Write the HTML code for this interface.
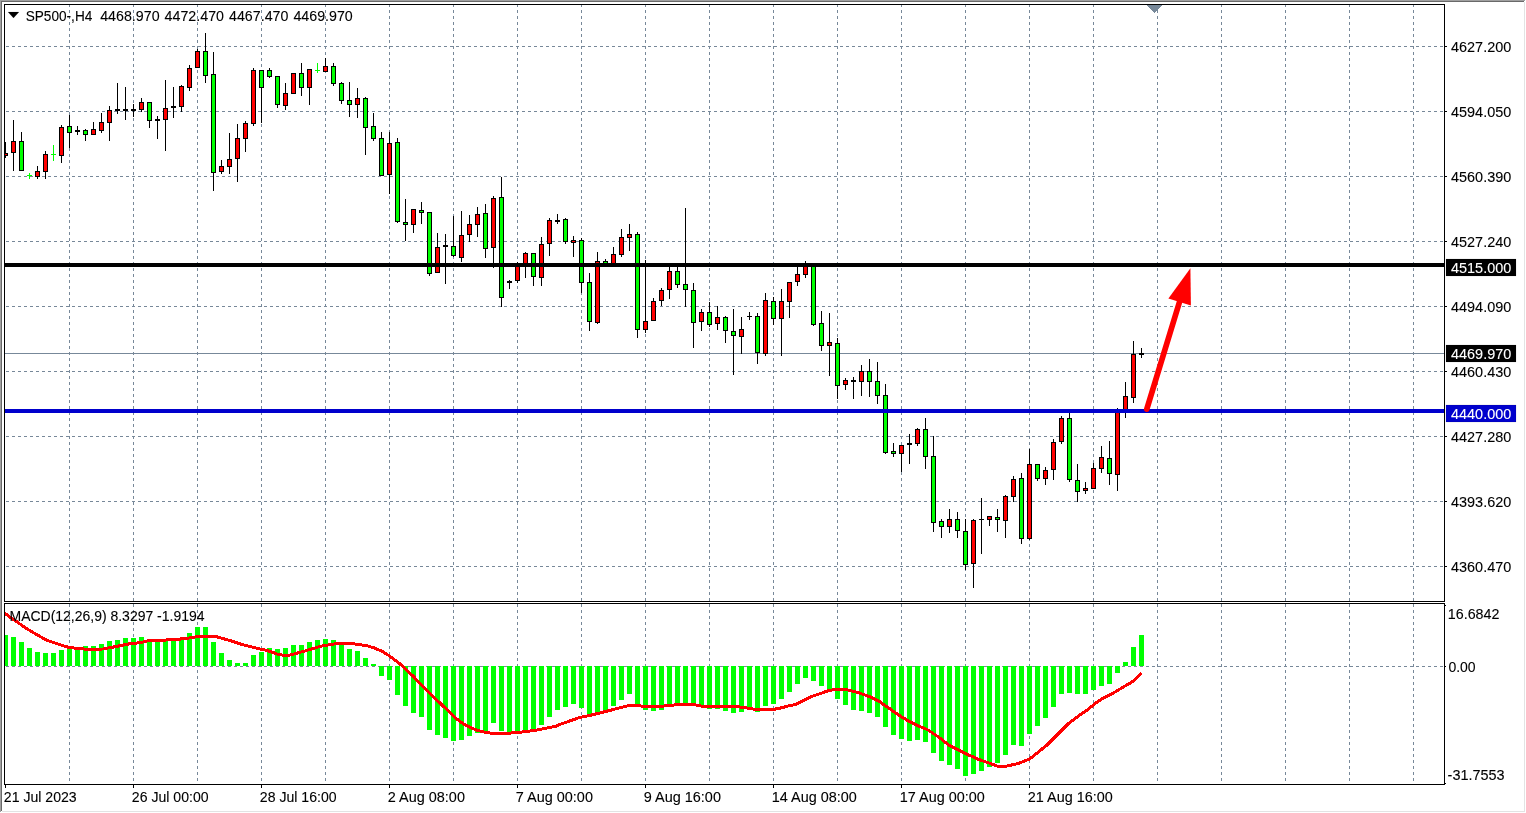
<!DOCTYPE html>
<html lang="en"><head><meta charset="utf-8"><title>SP500-,H4</title>
<style>
html,body{margin:0;padding:0;background:#fff;overflow:hidden}
svg{display:block}
</style></head><body>
<svg width="1526" height="813" viewBox="0 0 1526 813" shape-rendering="crispEdges">
<defs>
<clipPath id="cc"><rect x="5" y="5" width="1439" height="596"/></clipPath>
<clipPath id="cm"><rect x="5" y="604" width="1439" height="180"/></clipPath>
</defs>
<rect width="1526" height="813" fill="#fff"/>
<rect x="0" y="0" width="1525" height="1" fill="#a0a0a0"/>
<rect x="0" y="1" width="1524" height="1" fill="#696969"/>
<rect x="0" y="0" width="1" height="812" fill="#a0a0a0"/>
<rect x="1" y="1" width="1" height="810" fill="#696969"/>
<rect x="1524" y="2" width="1" height="810" fill="#e3e3e3"/>
<rect x="2" y="811" width="1523" height="1" fill="#e3e3e3"/>
<g stroke="#778899" stroke-width="1" stroke-dasharray="3 3" fill="none">
<path d="M69.5 4V601"/>
<path d="M69.5 604V784"/>
<path d="M133.5 4V601"/>
<path d="M133.5 604V784"/>
<path d="M197.5 4V601"/>
<path d="M197.5 604V784"/>
<path d="M261.5 4V601"/>
<path d="M261.5 604V784"/>
<path d="M325.5 4V601"/>
<path d="M325.5 604V784"/>
<path d="M389.5 4V601"/>
<path d="M389.5 604V784"/>
<path d="M453.5 4V601"/>
<path d="M453.5 604V784"/>
<path d="M517.5 4V601"/>
<path d="M517.5 604V784"/>
<path d="M581.5 4V601"/>
<path d="M581.5 604V784"/>
<path d="M645.5 4V601"/>
<path d="M645.5 604V784"/>
<path d="M709.5 4V601"/>
<path d="M709.5 604V784"/>
<path d="M773.5 4V601"/>
<path d="M773.5 604V784"/>
<path d="M837.5 4V601"/>
<path d="M837.5 604V784"/>
<path d="M901.5 4V601"/>
<path d="M901.5 604V784"/>
<path d="M965.5 4V601"/>
<path d="M965.5 604V784"/>
<path d="M1029.5 4V601"/>
<path d="M1029.5 604V784"/>
<path d="M1093.5 4V601"/>
<path d="M1093.5 604V784"/>
<path d="M1157.5 4V601"/>
<path d="M1157.5 604V784"/>
<path d="M1221.5 4V601"/>
<path d="M1221.5 604V784"/>
<path d="M1285.5 4V601"/>
<path d="M1285.5 604V784"/>
<path d="M1349.5 4V601"/>
<path d="M1349.5 604V784"/>
<path d="M1413.5 4V601"/>
<path d="M1413.5 604V784"/>
<path d="M6 46.5H1444"/>
<path d="M6 111.5H1444"/>
<path d="M6 176.5H1444"/>
<path d="M6 241.5H1444"/>
<path d="M6 306.5H1444"/>
<path d="M6 371.5H1444"/>
<path d="M6 436.5H1444"/>
<path d="M6 501.5H1444"/>
<path d="M6 566.5H1444"/>
<path d="M6 666.5H1444"/>
</g>
<path d="M1146.5 4.5H1162.5L1154.5 13Z" fill="#778899"/>
<rect x="5" y="353" width="1439" height="1" fill="#778899"/>
<g clip-path="url(#cm)">
<rect x="3" y="635" width="5" height="31" fill="#00ff00"/>
<rect x="11" y="637" width="5" height="29" fill="#00ff00"/>
<rect x="19" y="642" width="5" height="24" fill="#00ff00"/>
<rect x="27" y="648" width="5" height="18" fill="#00ff00"/>
<rect x="35" y="652" width="5" height="14" fill="#00ff00"/>
<rect x="43" y="653" width="5" height="13" fill="#00ff00"/>
<rect x="51" y="653" width="5" height="13" fill="#00ff00"/>
<rect x="59" y="650" width="5" height="16" fill="#00ff00"/>
<rect x="67" y="648" width="5" height="18" fill="#00ff00"/>
<rect x="75" y="649" width="5" height="17" fill="#00ff00"/>
<rect x="83" y="646" width="5" height="20" fill="#00ff00"/>
<rect x="91" y="646" width="5" height="20" fill="#00ff00"/>
<rect x="99" y="644" width="5" height="22" fill="#00ff00"/>
<rect x="107" y="641" width="5" height="25" fill="#00ff00"/>
<rect x="115" y="640" width="5" height="26" fill="#00ff00"/>
<rect x="123" y="638" width="5" height="28" fill="#00ff00"/>
<rect x="131" y="638" width="5" height="28" fill="#00ff00"/>
<rect x="139" y="637" width="5" height="29" fill="#00ff00"/>
<rect x="147" y="639" width="5" height="27" fill="#00ff00"/>
<rect x="155" y="640" width="5" height="26" fill="#00ff00"/>
<rect x="163" y="640" width="5" height="26" fill="#00ff00"/>
<rect x="171" y="639" width="5" height="27" fill="#00ff00"/>
<rect x="179" y="638" width="5" height="28" fill="#00ff00"/>
<rect x="187" y="633" width="5" height="33" fill="#00ff00"/>
<rect x="195" y="627" width="5" height="39" fill="#00ff00"/>
<rect x="203" y="627" width="5" height="39" fill="#00ff00"/>
<rect x="211" y="642" width="5" height="24" fill="#00ff00"/>
<rect x="219" y="653" width="5" height="13" fill="#00ff00"/>
<rect x="227" y="660" width="5" height="6" fill="#00ff00"/>
<rect x="235" y="663" width="5" height="3" fill="#00ff00"/>
<rect x="243" y="663" width="5" height="3" fill="#00ff00"/>
<rect x="251" y="655" width="5" height="11" fill="#00ff00"/>
<rect x="259" y="652" width="5" height="14" fill="#00ff00"/>
<rect x="267" y="648" width="5" height="18" fill="#00ff00"/>
<rect x="275" y="649" width="5" height="17" fill="#00ff00"/>
<rect x="283" y="648" width="5" height="18" fill="#00ff00"/>
<rect x="291" y="645" width="5" height="21" fill="#00ff00"/>
<rect x="299" y="645" width="5" height="21" fill="#00ff00"/>
<rect x="307" y="642" width="5" height="24" fill="#00ff00"/>
<rect x="315" y="640" width="5" height="26" fill="#00ff00"/>
<rect x="323" y="639" width="5" height="27" fill="#00ff00"/>
<rect x="331" y="640" width="5" height="26" fill="#00ff00"/>
<rect x="339" y="645" width="5" height="21" fill="#00ff00"/>
<rect x="347" y="649" width="5" height="17" fill="#00ff00"/>
<rect x="355" y="651" width="5" height="15" fill="#00ff00"/>
<rect x="363" y="658" width="5" height="8" fill="#00ff00"/>
<rect x="371" y="664" width="5" height="2" fill="#00ff00"/>
<rect x="379" y="666" width="5" height="10" fill="#00ff00"/>
<rect x="387" y="666" width="5" height="14" fill="#00ff00"/>
<rect x="395" y="666" width="5" height="29" fill="#00ff00"/>
<rect x="403" y="666" width="5" height="40" fill="#00ff00"/>
<rect x="411" y="666" width="5" height="47" fill="#00ff00"/>
<rect x="419" y="666" width="5" height="51" fill="#00ff00"/>
<rect x="427" y="666" width="5" height="64" fill="#00ff00"/>
<rect x="435" y="666" width="5" height="69" fill="#00ff00"/>
<rect x="443" y="666" width="5" height="72" fill="#00ff00"/>
<rect x="451" y="666" width="5" height="75" fill="#00ff00"/>
<rect x="459" y="666" width="5" height="74" fill="#00ff00"/>
<rect x="467" y="666" width="5" height="70" fill="#00ff00"/>
<rect x="475" y="666" width="5" height="67" fill="#00ff00"/>
<rect x="483" y="666" width="5" height="66" fill="#00ff00"/>
<rect x="491" y="666" width="5" height="57" fill="#00ff00"/>
<rect x="499" y="666" width="5" height="65" fill="#00ff00"/>
<rect x="507" y="666" width="5" height="66" fill="#00ff00"/>
<rect x="515" y="666" width="5" height="65" fill="#00ff00"/>
<rect x="523" y="666" width="5" height="64" fill="#00ff00"/>
<rect x="531" y="666" width="5" height="63" fill="#00ff00"/>
<rect x="539" y="666" width="5" height="59" fill="#00ff00"/>
<rect x="547" y="666" width="5" height="51" fill="#00ff00"/>
<rect x="555" y="666" width="5" height="44" fill="#00ff00"/>
<rect x="563" y="666" width="5" height="41" fill="#00ff00"/>
<rect x="571" y="666" width="5" height="38" fill="#00ff00"/>
<rect x="579" y="666" width="5" height="42" fill="#00ff00"/>
<rect x="587" y="666" width="5" height="49" fill="#00ff00"/>
<rect x="595" y="666" width="5" height="47" fill="#00ff00"/>
<rect x="603" y="666" width="5" height="45" fill="#00ff00"/>
<rect x="611" y="666" width="5" height="40" fill="#00ff00"/>
<rect x="619" y="666" width="5" height="34" fill="#00ff00"/>
<rect x="627" y="666" width="5" height="28" fill="#00ff00"/>
<rect x="635" y="666" width="5" height="40" fill="#00ff00"/>
<rect x="643" y="666" width="5" height="44" fill="#00ff00"/>
<rect x="651" y="666" width="5" height="45" fill="#00ff00"/>
<rect x="659" y="666" width="5" height="44" fill="#00ff00"/>
<rect x="667" y="666" width="5" height="40" fill="#00ff00"/>
<rect x="675" y="666" width="5" height="39" fill="#00ff00"/>
<rect x="683" y="666" width="5" height="39" fill="#00ff00"/>
<rect x="691" y="666" width="5" height="39" fill="#00ff00"/>
<rect x="699" y="666" width="5" height="41" fill="#00ff00"/>
<rect x="707" y="666" width="5" height="43" fill="#00ff00"/>
<rect x="715" y="666" width="5" height="43" fill="#00ff00"/>
<rect x="723" y="666" width="5" height="45" fill="#00ff00"/>
<rect x="731" y="666" width="5" height="47" fill="#00ff00"/>
<rect x="739" y="666" width="5" height="46" fill="#00ff00"/>
<rect x="747" y="666" width="5" height="43" fill="#00ff00"/>
<rect x="755" y="666" width="5" height="46" fill="#00ff00"/>
<rect x="763" y="666" width="5" height="40" fill="#00ff00"/>
<rect x="771" y="666" width="5" height="38" fill="#00ff00"/>
<rect x="779" y="666" width="5" height="33" fill="#00ff00"/>
<rect x="787" y="666" width="5" height="26" fill="#00ff00"/>
<rect x="795" y="666" width="5" height="18" fill="#00ff00"/>
<rect x="803" y="666" width="5" height="12" fill="#00ff00"/>
<rect x="811" y="666" width="5" height="15" fill="#00ff00"/>
<rect x="819" y="666" width="5" height="20" fill="#00ff00"/>
<rect x="827" y="666" width="5" height="24" fill="#00ff00"/>
<rect x="835" y="666" width="5" height="33" fill="#00ff00"/>
<rect x="843" y="666" width="5" height="39" fill="#00ff00"/>
<rect x="851" y="666" width="5" height="44" fill="#00ff00"/>
<rect x="859" y="666" width="5" height="45" fill="#00ff00"/>
<rect x="867" y="666" width="5" height="47" fill="#00ff00"/>
<rect x="875" y="666" width="5" height="51" fill="#00ff00"/>
<rect x="883" y="666" width="5" height="61" fill="#00ff00"/>
<rect x="891" y="666" width="5" height="69" fill="#00ff00"/>
<rect x="899" y="666" width="5" height="73" fill="#00ff00"/>
<rect x="907" y="666" width="5" height="75" fill="#00ff00"/>
<rect x="915" y="666" width="5" height="74" fill="#00ff00"/>
<rect x="923" y="666" width="5" height="76" fill="#00ff00"/>
<rect x="931" y="666" width="5" height="87" fill="#00ff00"/>
<rect x="939" y="666" width="5" height="95" fill="#00ff00"/>
<rect x="947" y="666" width="5" height="99" fill="#00ff00"/>
<rect x="955" y="666" width="5" height="103" fill="#00ff00"/>
<rect x="963" y="666" width="5" height="110" fill="#00ff00"/>
<rect x="971" y="666" width="5" height="108" fill="#00ff00"/>
<rect x="979" y="666" width="5" height="105" fill="#00ff00"/>
<rect x="987" y="666" width="5" height="101" fill="#00ff00"/>
<rect x="995" y="666" width="5" height="97" fill="#00ff00"/>
<rect x="1003" y="666" width="5" height="89" fill="#00ff00"/>
<rect x="1011" y="666" width="5" height="79" fill="#00ff00"/>
<rect x="1019" y="666" width="5" height="80" fill="#00ff00"/>
<rect x="1027" y="666" width="5" height="68" fill="#00ff00"/>
<rect x="1035" y="666" width="5" height="60" fill="#00ff00"/>
<rect x="1043" y="666" width="5" height="52" fill="#00ff00"/>
<rect x="1051" y="666" width="5" height="41" fill="#00ff00"/>
<rect x="1059" y="666" width="5" height="28" fill="#00ff00"/>
<rect x="1067" y="666" width="5" height="27" fill="#00ff00"/>
<rect x="1075" y="666" width="5" height="28" fill="#00ff00"/>
<rect x="1083" y="666" width="5" height="28" fill="#00ff00"/>
<rect x="1091" y="666" width="5" height="24" fill="#00ff00"/>
<rect x="1099" y="666" width="5" height="20" fill="#00ff00"/>
<rect x="1107" y="666" width="5" height="18" fill="#00ff00"/>
<rect x="1115" y="666" width="5" height="7" fill="#00ff00"/>
<rect x="1123" y="662" width="5" height="4" fill="#00ff00"/>
<rect x="1131" y="647" width="5" height="19" fill="#00ff00"/>
<rect x="1139" y="635" width="5" height="31" fill="#00ff00"/>
<polyline points="4,613.1 5.2,613.7 15.7,621 26.2,628.3 36.7,634.6 47.2,640.4 57.7,644 68.1,647.2 78.6,648.7 89.1,649.3 102.7,649 110,647.7 120.5,645.6 131,643.5 140,642.7 146.6,641.1 153.1,640 166.2,640 170.1,639.1 179.3,639.1 184.6,638.7 192.4,637.4 199,636.5 205.5,636.1 214.7,636.1 221.3,638.1 231.7,641.1 239.6,643.7 247.5,645.9 258,648.6 265.8,650.1 271.1,651.8 277.6,654.2 284.2,655.5 289.4,655.1 297.3,653.1 305.1,650.9 313,648.6 320.9,646.2 328.7,644.9 336.6,643.6 343,643.6 354.8,644 366.6,645.6 374.5,648 382.4,651.5 390.2,656.4 398,662.3 406,669.2 413.9,677 421.7,685 429.6,692.8 437.5,700.7 445.4,708.2 453.2,715.9 461.1,722.4 469,726.9 476.9,730.2 484.7,732.2 492.6,733.4 500.5,733.4 508.3,733.2 516.2,732.6 526,731.6 536,730.2 545.7,728.3 555.6,726.3 560,724.3 569.8,721 579.7,717.4 589.5,715.5 599.4,713.1 609.2,710.6 619,708 628.9,705.6 638.7,705.6 644.6,706.6 658.4,706.6 668.3,705.6 678.1,704.6 693.9,704.6 701.7,706.2 717.5,706.2 737.2,706.6 747,708 756.9,709.6 772.6,709.6 780.5,708 788.3,706 796.2,704.3 804.1,700.3 812,696.4 819.8,693.8 827.7,690.9 835.6,689.3 845.4,689.3 853.3,691.3 860,693.2 869.8,696.8 879.7,701.7 889.5,708.6 899.4,715.5 909.2,721.4 919,726.3 926.9,729.3 938.7,737.1 948.6,745 958.4,749.9 968.3,754.8 978.1,759.2 988,762.7 997.8,766.3 1005.7,766.3 1017.5,763.7 1029.3,759.2 1037.2,752.9 1047,745 1056.9,735.2 1068.7,723.3 1076.5,717.4 1086.4,710.6 1096.2,702.7 1102.1,698.7 1112,693.8 1121.8,687.9 1133.6,681 1141.5,673.1" fill="none" stroke="#ff0000" stroke-width="3" stroke-linejoin="round" shape-rendering="crispEdges"/>
</g>
<g clip-path="url(#cc)">
<rect x="5" y="142" width="1" height="16" fill="#000"/>
<rect x="3" y="153" width="5" height="3" fill="#000"/>
<rect x="4" y="154" width="3" height="1" fill="#ff0000"/>
<rect x="13" y="120" width="1" height="51" fill="#000"/>
<rect x="11" y="141" width="5" height="12" fill="#000"/>
<rect x="12" y="142" width="3" height="10" fill="#ff0000"/>
<rect x="21" y="132" width="1" height="39" fill="#000"/>
<rect x="19" y="141" width="5" height="30" fill="#000"/>
<rect x="20" y="142" width="3" height="28" fill="#00ff00"/>
<rect x="29" y="173" width="1" height="6" fill="#00ff00"/>
<rect x="27" y="175" width="5" height="1" fill="#00ff00"/>
<rect x="37" y="166" width="1" height="13" fill="#000"/>
<rect x="35" y="171" width="5" height="6" fill="#000"/>
<rect x="36" y="172" width="3" height="4" fill="#ff0000"/>
<rect x="45" y="151" width="1" height="28" fill="#000"/>
<rect x="43" y="154" width="5" height="18" fill="#000"/>
<rect x="44" y="155" width="3" height="16" fill="#ff0000"/>
<rect x="53" y="145" width="1" height="16" fill="#00ff00"/>
<rect x="51" y="154" width="5" height="1" fill="#00ff00"/>
<rect x="61" y="125" width="1" height="38" fill="#000"/>
<rect x="59" y="127" width="5" height="29" fill="#000"/>
<rect x="60" y="128" width="3" height="27" fill="#ff0000"/>
<rect x="69" y="115" width="1" height="33" fill="#000"/>
<rect x="67" y="126" width="5" height="7" fill="#000"/>
<rect x="68" y="127" width="3" height="5" fill="#00ff00"/>
<rect x="77" y="126" width="1" height="9" fill="#000"/>
<rect x="75" y="130" width="5" height="2" fill="#000"/>
<rect x="85" y="129" width="1" height="12" fill="#000"/>
<rect x="83" y="130" width="5" height="5" fill="#000"/>
<rect x="84" y="131" width="3" height="3" fill="#00ff00"/>
<rect x="93" y="122" width="1" height="13" fill="#000"/>
<rect x="91" y="129" width="5" height="6" fill="#000"/>
<rect x="92" y="130" width="3" height="4" fill="#ff0000"/>
<rect x="101" y="113" width="1" height="20" fill="#000"/>
<rect x="99" y="122" width="5" height="9" fill="#000"/>
<rect x="100" y="123" width="3" height="7" fill="#ff0000"/>
<rect x="109" y="106" width="1" height="35" fill="#000"/>
<rect x="107" y="110" width="5" height="13" fill="#000"/>
<rect x="108" y="111" width="3" height="11" fill="#ff0000"/>
<rect x="117" y="83" width="1" height="31" fill="#000"/>
<rect x="115" y="109" width="5" height="2" fill="#000"/>
<rect x="125" y="87" width="1" height="33" fill="#000"/>
<rect x="123" y="109" width="5" height="2" fill="#000"/>
<rect x="133" y="104" width="1" height="13" fill="#000"/>
<rect x="131" y="109" width="5" height="2" fill="#000"/>
<rect x="141" y="98" width="1" height="14" fill="#000"/>
<rect x="139" y="102" width="5" height="8" fill="#000"/>
<rect x="140" y="103" width="3" height="6" fill="#ff0000"/>
<rect x="149" y="102" width="1" height="26" fill="#000"/>
<rect x="147" y="102" width="5" height="19" fill="#000"/>
<rect x="148" y="103" width="3" height="17" fill="#00ff00"/>
<rect x="157" y="116" width="1" height="23" fill="#000"/>
<rect x="155" y="119" width="5" height="2" fill="#000"/>
<rect x="165" y="80" width="1" height="71" fill="#000"/>
<rect x="163" y="108" width="5" height="12" fill="#000"/>
<rect x="164" y="109" width="3" height="10" fill="#ff0000"/>
<rect x="173" y="87" width="1" height="31" fill="#000"/>
<rect x="171" y="106" width="5" height="2" fill="#000"/>
<rect x="181" y="85" width="1" height="27" fill="#000"/>
<rect x="179" y="86" width="5" height="21" fill="#000"/>
<rect x="180" y="87" width="3" height="19" fill="#ff0000"/>
<rect x="189" y="65" width="1" height="26" fill="#000"/>
<rect x="187" y="68" width="5" height="20" fill="#000"/>
<rect x="188" y="69" width="3" height="18" fill="#ff0000"/>
<rect x="197" y="49" width="1" height="19" fill="#000"/>
<rect x="195" y="51" width="5" height="17" fill="#000"/>
<rect x="196" y="52" width="3" height="15" fill="#ff0000"/>
<rect x="205" y="33" width="1" height="50" fill="#000"/>
<rect x="203" y="51" width="5" height="25" fill="#000"/>
<rect x="204" y="52" width="3" height="23" fill="#00ff00"/>
<rect x="213" y="52" width="1" height="139" fill="#000"/>
<rect x="211" y="74" width="5" height="99" fill="#000"/>
<rect x="212" y="75" width="3" height="97" fill="#00ff00"/>
<rect x="221" y="160" width="1" height="14" fill="#000"/>
<rect x="219" y="166" width="5" height="6" fill="#000"/>
<rect x="220" y="167" width="3" height="4" fill="#ff0000"/>
<rect x="229" y="133" width="1" height="41" fill="#000"/>
<rect x="227" y="159" width="5" height="8" fill="#000"/>
<rect x="228" y="160" width="3" height="6" fill="#ff0000"/>
<rect x="237" y="124" width="1" height="58" fill="#000"/>
<rect x="235" y="138" width="5" height="21" fill="#000"/>
<rect x="236" y="139" width="3" height="19" fill="#ff0000"/>
<rect x="245" y="121" width="1" height="31" fill="#000"/>
<rect x="243" y="123" width="5" height="16" fill="#000"/>
<rect x="244" y="124" width="3" height="14" fill="#ff0000"/>
<rect x="253" y="68" width="1" height="58" fill="#000"/>
<rect x="251" y="70" width="5" height="54" fill="#000"/>
<rect x="252" y="71" width="3" height="52" fill="#ff0000"/>
<rect x="261" y="70" width="1" height="53" fill="#000"/>
<rect x="259" y="70" width="5" height="18" fill="#000"/>
<rect x="260" y="71" width="3" height="16" fill="#00ff00"/>
<rect x="269" y="68" width="1" height="10" fill="#000"/>
<rect x="267" y="70" width="5" height="7" fill="#000"/>
<rect x="268" y="71" width="3" height="5" fill="#00ff00"/>
<rect x="277" y="76" width="1" height="32" fill="#000"/>
<rect x="275" y="76" width="5" height="29" fill="#000"/>
<rect x="276" y="77" width="3" height="27" fill="#00ff00"/>
<rect x="285" y="83" width="1" height="27" fill="#000"/>
<rect x="283" y="93" width="5" height="13" fill="#000"/>
<rect x="284" y="94" width="3" height="11" fill="#ff0000"/>
<rect x="293" y="73" width="1" height="21" fill="#000"/>
<rect x="291" y="73" width="5" height="21" fill="#000"/>
<rect x="292" y="74" width="3" height="19" fill="#ff0000"/>
<rect x="301" y="63" width="1" height="33" fill="#000"/>
<rect x="299" y="73" width="5" height="15" fill="#000"/>
<rect x="300" y="74" width="3" height="13" fill="#00ff00"/>
<rect x="309" y="69" width="1" height="36" fill="#000"/>
<rect x="307" y="69" width="5" height="19" fill="#000"/>
<rect x="308" y="70" width="3" height="17" fill="#ff0000"/>
<rect x="317" y="63" width="1" height="10" fill="#00ff00"/>
<rect x="315" y="70" width="5" height="1" fill="#00ff00"/>
<rect x="325" y="58" width="1" height="14" fill="#000"/>
<rect x="323" y="66" width="5" height="6" fill="#000"/>
<rect x="324" y="67" width="3" height="4" fill="#ff0000"/>
<rect x="333" y="63" width="1" height="23" fill="#000"/>
<rect x="331" y="66" width="5" height="18" fill="#000"/>
<rect x="332" y="67" width="3" height="16" fill="#00ff00"/>
<rect x="341" y="82" width="1" height="22" fill="#000"/>
<rect x="339" y="83" width="5" height="18" fill="#000"/>
<rect x="340" y="84" width="3" height="16" fill="#00ff00"/>
<rect x="349" y="82" width="1" height="35" fill="#000"/>
<rect x="347" y="100" width="5" height="5" fill="#000"/>
<rect x="348" y="101" width="3" height="3" fill="#00ff00"/>
<rect x="357" y="88" width="1" height="30" fill="#000"/>
<rect x="355" y="98" width="5" height="7" fill="#000"/>
<rect x="356" y="99" width="3" height="5" fill="#ff0000"/>
<rect x="365" y="97" width="1" height="58" fill="#000"/>
<rect x="363" y="98" width="5" height="30" fill="#000"/>
<rect x="364" y="99" width="3" height="28" fill="#00ff00"/>
<rect x="373" y="113" width="1" height="28" fill="#000"/>
<rect x="371" y="126" width="5" height="13" fill="#000"/>
<rect x="372" y="127" width="3" height="11" fill="#00ff00"/>
<rect x="381" y="132" width="1" height="44" fill="#000"/>
<rect x="379" y="138" width="5" height="38" fill="#000"/>
<rect x="380" y="139" width="3" height="36" fill="#00ff00"/>
<rect x="389" y="132" width="1" height="62" fill="#000"/>
<rect x="387" y="143" width="5" height="32" fill="#000"/>
<rect x="388" y="144" width="3" height="30" fill="#ff0000"/>
<rect x="397" y="138" width="1" height="85" fill="#000"/>
<rect x="395" y="142" width="5" height="80" fill="#000"/>
<rect x="396" y="143" width="3" height="78" fill="#00ff00"/>
<rect x="405" y="199" width="1" height="42" fill="#000"/>
<rect x="403" y="222" width="5" height="3" fill="#000"/>
<rect x="404" y="223" width="3" height="1" fill="#00ff00"/>
<rect x="413" y="209" width="1" height="24" fill="#000"/>
<rect x="411" y="209" width="5" height="16" fill="#000"/>
<rect x="412" y="210" width="3" height="14" fill="#ff0000"/>
<rect x="421" y="202" width="1" height="22" fill="#000"/>
<rect x="419" y="210" width="5" height="3" fill="#000"/>
<rect x="420" y="211" width="3" height="1" fill="#00ff00"/>
<rect x="429" y="212" width="1" height="64" fill="#000"/>
<rect x="427" y="212" width="5" height="62" fill="#000"/>
<rect x="428" y="213" width="3" height="60" fill="#00ff00"/>
<rect x="437" y="233" width="1" height="40" fill="#000"/>
<rect x="435" y="247" width="5" height="26" fill="#000"/>
<rect x="436" y="248" width="3" height="24" fill="#ff0000"/>
<rect x="445" y="234" width="1" height="50" fill="#000"/>
<rect x="443" y="245" width="5" height="2" fill="#000"/>
<rect x="453" y="216" width="1" height="41" fill="#000"/>
<rect x="451" y="246" width="5" height="10" fill="#000"/>
<rect x="452" y="247" width="3" height="8" fill="#00ff00"/>
<rect x="461" y="211" width="1" height="51" fill="#000"/>
<rect x="459" y="235" width="5" height="23" fill="#000"/>
<rect x="460" y="236" width="3" height="21" fill="#ff0000"/>
<rect x="469" y="215" width="1" height="27" fill="#000"/>
<rect x="467" y="224" width="5" height="11" fill="#000"/>
<rect x="468" y="225" width="3" height="9" fill="#ff0000"/>
<rect x="477" y="207" width="1" height="30" fill="#000"/>
<rect x="475" y="214" width="5" height="11" fill="#000"/>
<rect x="476" y="215" width="3" height="9" fill="#ff0000"/>
<rect x="485" y="204" width="1" height="54" fill="#000"/>
<rect x="483" y="213" width="5" height="36" fill="#000"/>
<rect x="484" y="214" width="3" height="34" fill="#00ff00"/>
<rect x="493" y="196" width="1" height="72" fill="#000"/>
<rect x="491" y="198" width="5" height="50" fill="#000"/>
<rect x="492" y="199" width="3" height="48" fill="#ff0000"/>
<rect x="501" y="177" width="1" height="130" fill="#000"/>
<rect x="499" y="197" width="5" height="101" fill="#000"/>
<rect x="500" y="198" width="3" height="99" fill="#00ff00"/>
<rect x="509" y="280" width="1" height="9" fill="#000"/>
<rect x="507" y="281" width="5" height="2" fill="#000"/>
<rect x="517" y="262" width="1" height="21" fill="#000"/>
<rect x="515" y="266" width="5" height="15" fill="#000"/>
<rect x="516" y="267" width="3" height="13" fill="#ff0000"/>
<rect x="525" y="252" width="1" height="26" fill="#000"/>
<rect x="523" y="253" width="5" height="12" fill="#000"/>
<rect x="524" y="254" width="3" height="10" fill="#ff0000"/>
<rect x="533" y="253" width="1" height="33" fill="#000"/>
<rect x="531" y="253" width="5" height="24" fill="#000"/>
<rect x="532" y="254" width="3" height="22" fill="#00ff00"/>
<rect x="541" y="237" width="1" height="49" fill="#000"/>
<rect x="539" y="244" width="5" height="34" fill="#000"/>
<rect x="540" y="245" width="3" height="32" fill="#ff0000"/>
<rect x="549" y="218" width="1" height="38" fill="#000"/>
<rect x="547" y="220" width="5" height="24" fill="#000"/>
<rect x="548" y="221" width="3" height="22" fill="#ff0000"/>
<rect x="557" y="214" width="1" height="10" fill="#000"/>
<rect x="555" y="220" width="5" height="2" fill="#000"/>
<rect x="565" y="218" width="1" height="26" fill="#000"/>
<rect x="563" y="219" width="5" height="23" fill="#000"/>
<rect x="564" y="220" width="3" height="21" fill="#00ff00"/>
<rect x="573" y="236" width="1" height="21" fill="#000"/>
<rect x="571" y="240" width="5" height="3" fill="#000"/>
<rect x="572" y="241" width="3" height="1" fill="#ff0000"/>
<rect x="581" y="238" width="1" height="55" fill="#000"/>
<rect x="579" y="240" width="5" height="43" fill="#000"/>
<rect x="580" y="241" width="3" height="41" fill="#00ff00"/>
<rect x="589" y="273" width="1" height="58" fill="#000"/>
<rect x="587" y="282" width="5" height="40" fill="#000"/>
<rect x="588" y="283" width="3" height="38" fill="#00ff00"/>
<rect x="597" y="252" width="1" height="72" fill="#000"/>
<rect x="595" y="261" width="5" height="62" fill="#000"/>
<rect x="596" y="262" width="3" height="60" fill="#ff0000"/>
<rect x="605" y="259" width="1" height="6" fill="#000"/>
<rect x="603" y="261" width="5" height="4" fill="#000"/>
<rect x="604" y="262" width="3" height="2" fill="#00ff00"/>
<rect x="613" y="247" width="1" height="18" fill="#000"/>
<rect x="611" y="254" width="5" height="11" fill="#000"/>
<rect x="612" y="255" width="3" height="9" fill="#ff0000"/>
<rect x="621" y="229" width="1" height="28" fill="#000"/>
<rect x="619" y="237" width="5" height="18" fill="#000"/>
<rect x="620" y="238" width="3" height="16" fill="#ff0000"/>
<rect x="629" y="224" width="1" height="27" fill="#000"/>
<rect x="627" y="234" width="5" height="4" fill="#000"/>
<rect x="628" y="235" width="3" height="2" fill="#ff0000"/>
<rect x="637" y="232" width="1" height="106" fill="#000"/>
<rect x="635" y="234" width="5" height="96" fill="#000"/>
<rect x="636" y="235" width="3" height="94" fill="#00ff00"/>
<rect x="645" y="260" width="1" height="73" fill="#000"/>
<rect x="643" y="321" width="5" height="9" fill="#000"/>
<rect x="644" y="322" width="3" height="7" fill="#ff0000"/>
<rect x="653" y="298" width="1" height="23" fill="#000"/>
<rect x="651" y="301" width="5" height="20" fill="#000"/>
<rect x="652" y="302" width="3" height="18" fill="#ff0000"/>
<rect x="661" y="288" width="1" height="18" fill="#000"/>
<rect x="659" y="290" width="5" height="11" fill="#000"/>
<rect x="660" y="291" width="3" height="9" fill="#ff0000"/>
<rect x="669" y="263" width="1" height="36" fill="#000"/>
<rect x="667" y="271" width="5" height="19" fill="#000"/>
<rect x="668" y="272" width="3" height="17" fill="#ff0000"/>
<rect x="677" y="263" width="1" height="25" fill="#000"/>
<rect x="675" y="271" width="5" height="14" fill="#000"/>
<rect x="676" y="272" width="3" height="12" fill="#00ff00"/>
<rect x="685" y="208" width="1" height="99" fill="#000"/>
<rect x="683" y="284" width="5" height="6" fill="#000"/>
<rect x="684" y="285" width="3" height="4" fill="#00ff00"/>
<rect x="693" y="283" width="1" height="65" fill="#000"/>
<rect x="691" y="290" width="5" height="33" fill="#000"/>
<rect x="692" y="291" width="3" height="31" fill="#00ff00"/>
<rect x="701" y="309" width="1" height="22" fill="#000"/>
<rect x="699" y="312" width="5" height="10" fill="#000"/>
<rect x="700" y="313" width="3" height="8" fill="#ff0000"/>
<rect x="709" y="302" width="1" height="25" fill="#000"/>
<rect x="707" y="312" width="5" height="13" fill="#000"/>
<rect x="708" y="313" width="3" height="11" fill="#00ff00"/>
<rect x="717" y="306" width="1" height="24" fill="#000"/>
<rect x="715" y="317" width="5" height="7" fill="#000"/>
<rect x="716" y="318" width="3" height="5" fill="#ff0000"/>
<rect x="725" y="316" width="1" height="27" fill="#000"/>
<rect x="723" y="317" width="5" height="14" fill="#000"/>
<rect x="724" y="318" width="3" height="12" fill="#00ff00"/>
<rect x="733" y="309" width="1" height="66" fill="#000"/>
<rect x="731" y="331" width="5" height="5" fill="#000"/>
<rect x="732" y="332" width="3" height="3" fill="#00ff00"/>
<rect x="741" y="317" width="1" height="37" fill="#000"/>
<rect x="739" y="329" width="5" height="8" fill="#000"/>
<rect x="740" y="330" width="3" height="6" fill="#ff0000"/>
<rect x="749" y="312" width="1" height="8" fill="#000"/>
<rect x="747" y="316" width="5" height="1" fill="#000"/>
<rect x="757" y="313" width="1" height="51" fill="#000"/>
<rect x="755" y="316" width="5" height="37" fill="#000"/>
<rect x="756" y="317" width="3" height="35" fill="#00ff00"/>
<rect x="765" y="293" width="1" height="63" fill="#000"/>
<rect x="763" y="300" width="5" height="54" fill="#000"/>
<rect x="764" y="301" width="3" height="52" fill="#ff0000"/>
<rect x="773" y="297" width="1" height="28" fill="#000"/>
<rect x="771" y="301" width="5" height="18" fill="#000"/>
<rect x="772" y="302" width="3" height="16" fill="#00ff00"/>
<rect x="781" y="289" width="1" height="67" fill="#000"/>
<rect x="779" y="301" width="5" height="18" fill="#000"/>
<rect x="780" y="302" width="3" height="16" fill="#ff0000"/>
<rect x="789" y="282" width="1" height="36" fill="#000"/>
<rect x="787" y="282" width="5" height="20" fill="#000"/>
<rect x="788" y="283" width="3" height="18" fill="#ff0000"/>
<rect x="797" y="263" width="1" height="23" fill="#000"/>
<rect x="795" y="274" width="5" height="8" fill="#000"/>
<rect x="796" y="275" width="3" height="6" fill="#ff0000"/>
<rect x="805" y="261" width="1" height="17" fill="#000"/>
<rect x="803" y="264" width="5" height="11" fill="#000"/>
<rect x="804" y="265" width="3" height="9" fill="#ff0000"/>
<rect x="813" y="263" width="1" height="63" fill="#000"/>
<rect x="811" y="264" width="5" height="61" fill="#000"/>
<rect x="812" y="265" width="3" height="59" fill="#00ff00"/>
<rect x="821" y="311" width="1" height="40" fill="#000"/>
<rect x="819" y="323" width="5" height="23" fill="#000"/>
<rect x="820" y="324" width="3" height="21" fill="#00ff00"/>
<rect x="829" y="313" width="1" height="63" fill="#000"/>
<rect x="827" y="342" width="5" height="4" fill="#000"/>
<rect x="828" y="343" width="3" height="2" fill="#ff0000"/>
<rect x="837" y="338" width="1" height="61" fill="#000"/>
<rect x="835" y="343" width="5" height="43" fill="#000"/>
<rect x="836" y="344" width="3" height="41" fill="#00ff00"/>
<rect x="845" y="378" width="1" height="12" fill="#000"/>
<rect x="843" y="380" width="5" height="5" fill="#000"/>
<rect x="844" y="381" width="3" height="3" fill="#ff0000"/>
<rect x="853" y="377" width="1" height="22" fill="#000"/>
<rect x="851" y="380" width="5" height="2" fill="#000"/>
<rect x="861" y="365" width="1" height="31" fill="#000"/>
<rect x="859" y="371" width="5" height="11" fill="#000"/>
<rect x="860" y="372" width="3" height="9" fill="#ff0000"/>
<rect x="869" y="359" width="1" height="38" fill="#000"/>
<rect x="867" y="371" width="5" height="11" fill="#000"/>
<rect x="868" y="372" width="3" height="9" fill="#00ff00"/>
<rect x="877" y="362" width="1" height="42" fill="#000"/>
<rect x="875" y="381" width="5" height="15" fill="#000"/>
<rect x="876" y="382" width="3" height="13" fill="#00ff00"/>
<rect x="885" y="384" width="1" height="70" fill="#000"/>
<rect x="883" y="395" width="5" height="58" fill="#000"/>
<rect x="884" y="396" width="3" height="56" fill="#00ff00"/>
<rect x="893" y="443" width="1" height="14" fill="#000"/>
<rect x="891" y="451" width="5" height="3" fill="#000"/>
<rect x="892" y="452" width="3" height="1" fill="#00ff00"/>
<rect x="901" y="445" width="1" height="27" fill="#000"/>
<rect x="899" y="445" width="5" height="9" fill="#000"/>
<rect x="900" y="446" width="3" height="7" fill="#ff0000"/>
<rect x="909" y="434" width="1" height="30" fill="#000"/>
<rect x="907" y="443" width="5" height="2" fill="#000"/>
<rect x="917" y="428" width="1" height="18" fill="#000"/>
<rect x="915" y="429" width="5" height="15" fill="#000"/>
<rect x="916" y="430" width="3" height="13" fill="#ff0000"/>
<rect x="925" y="418" width="1" height="51" fill="#000"/>
<rect x="923" y="429" width="5" height="28" fill="#000"/>
<rect x="924" y="430" width="3" height="26" fill="#00ff00"/>
<rect x="933" y="436" width="1" height="96" fill="#000"/>
<rect x="931" y="456" width="5" height="67" fill="#000"/>
<rect x="932" y="457" width="3" height="65" fill="#00ff00"/>
<rect x="941" y="519" width="1" height="19" fill="#000"/>
<rect x="939" y="521" width="5" height="6" fill="#000"/>
<rect x="940" y="522" width="3" height="4" fill="#00ff00"/>
<rect x="949" y="509" width="1" height="24" fill="#000"/>
<rect x="947" y="519" width="5" height="8" fill="#000"/>
<rect x="948" y="520" width="3" height="6" fill="#ff0000"/>
<rect x="957" y="512" width="1" height="26" fill="#000"/>
<rect x="955" y="519" width="5" height="12" fill="#000"/>
<rect x="956" y="520" width="3" height="10" fill="#00ff00"/>
<rect x="965" y="519" width="1" height="51" fill="#000"/>
<rect x="963" y="531" width="5" height="34" fill="#000"/>
<rect x="964" y="532" width="3" height="32" fill="#00ff00"/>
<rect x="973" y="519" width="1" height="69" fill="#000"/>
<rect x="971" y="520" width="5" height="44" fill="#000"/>
<rect x="972" y="521" width="3" height="42" fill="#ff0000"/>
<rect x="981" y="498" width="1" height="56" fill="#000"/>
<rect x="979" y="519" width="5" height="1" fill="#000"/>
<rect x="989" y="516" width="1" height="10" fill="#000"/>
<rect x="987" y="516" width="5" height="4" fill="#000"/>
<rect x="988" y="517" width="3" height="2" fill="#ff0000"/>
<rect x="997" y="509" width="1" height="23" fill="#000"/>
<rect x="995" y="517" width="5" height="3" fill="#000"/>
<rect x="996" y="518" width="3" height="1" fill="#00ff00"/>
<rect x="1005" y="495" width="1" height="43" fill="#000"/>
<rect x="1003" y="496" width="5" height="25" fill="#000"/>
<rect x="1004" y="497" width="3" height="23" fill="#ff0000"/>
<rect x="1013" y="476" width="1" height="26" fill="#000"/>
<rect x="1011" y="479" width="5" height="18" fill="#000"/>
<rect x="1012" y="480" width="3" height="16" fill="#ff0000"/>
<rect x="1021" y="473" width="1" height="71" fill="#000"/>
<rect x="1019" y="478" width="5" height="61" fill="#000"/>
<rect x="1020" y="479" width="3" height="59" fill="#00ff00"/>
<rect x="1029" y="449" width="1" height="91" fill="#000"/>
<rect x="1027" y="464" width="5" height="75" fill="#000"/>
<rect x="1028" y="465" width="3" height="73" fill="#ff0000"/>
<rect x="1037" y="464" width="1" height="17" fill="#000"/>
<rect x="1035" y="464" width="5" height="15" fill="#000"/>
<rect x="1036" y="465" width="3" height="13" fill="#00ff00"/>
<rect x="1045" y="467" width="1" height="18" fill="#000"/>
<rect x="1043" y="470" width="5" height="9" fill="#000"/>
<rect x="1044" y="471" width="3" height="7" fill="#ff0000"/>
<rect x="1053" y="439" width="1" height="41" fill="#000"/>
<rect x="1051" y="442" width="5" height="28" fill="#000"/>
<rect x="1052" y="443" width="3" height="26" fill="#ff0000"/>
<rect x="1061" y="416" width="1" height="28" fill="#000"/>
<rect x="1059" y="418" width="5" height="24" fill="#000"/>
<rect x="1060" y="419" width="3" height="22" fill="#ff0000"/>
<rect x="1069" y="410" width="1" height="72" fill="#000"/>
<rect x="1067" y="418" width="5" height="62" fill="#000"/>
<rect x="1068" y="419" width="3" height="60" fill="#00ff00"/>
<rect x="1077" y="464" width="1" height="38" fill="#000"/>
<rect x="1075" y="480" width="5" height="12" fill="#000"/>
<rect x="1076" y="481" width="3" height="10" fill="#00ff00"/>
<rect x="1085" y="482" width="1" height="12" fill="#000"/>
<rect x="1083" y="488" width="5" height="3" fill="#000"/>
<rect x="1084" y="489" width="3" height="1" fill="#ff0000"/>
<rect x="1093" y="463" width="1" height="26" fill="#000"/>
<rect x="1091" y="468" width="5" height="21" fill="#000"/>
<rect x="1092" y="469" width="3" height="19" fill="#ff0000"/>
<rect x="1101" y="446" width="1" height="27" fill="#000"/>
<rect x="1099" y="457" width="5" height="12" fill="#000"/>
<rect x="1100" y="458" width="3" height="10" fill="#ff0000"/>
<rect x="1109" y="441" width="1" height="44" fill="#000"/>
<rect x="1107" y="458" width="5" height="16" fill="#000"/>
<rect x="1108" y="459" width="3" height="14" fill="#00ff00"/>
<rect x="1117" y="408" width="1" height="83" fill="#000"/>
<rect x="1115" y="411" width="5" height="64" fill="#000"/>
<rect x="1116" y="412" width="3" height="62" fill="#ff0000"/>
<rect x="1125" y="382" width="1" height="36" fill="#000"/>
<rect x="1123" y="396" width="5" height="15" fill="#000"/>
<rect x="1124" y="397" width="3" height="13" fill="#ff0000"/>
<rect x="1133" y="341" width="1" height="62" fill="#000"/>
<rect x="1131" y="354" width="5" height="44" fill="#000"/>
<rect x="1132" y="355" width="3" height="42" fill="#ff0000"/>
<rect x="1141" y="348" width="1" height="10" fill="#000"/>
<rect x="1139" y="353" width="5" height="2" fill="#000"/>
</g>
<rect x="5" y="263" width="1439" height="4" fill="#000"/>
<rect x="5" y="409" width="1439" height="4" fill="#0000cd"/>
<g shape-rendering="geometricPrecision"><path d="M1146.8 409.2L1180.1 300" stroke="#ff0000" stroke-width="5.7" stroke-linecap="round" fill="none"/><path d="M1190.4 268.3L1168.4 298.5L1190.9 305.6Z" fill="#ff0000"/></g>
<rect x="4" y="4" width="1441" height="1" fill="#000"/>
<rect x="4" y="4" width="1" height="598" fill="#000"/>
<rect x="4" y="603" width="1" height="182" fill="#000"/>
<rect x="1444" y="4" width="1" height="598" fill="#000"/>
<rect x="4" y="601" width="1441" height="1" fill="#000"/>
<rect x="4" y="603" width="1441" height="1" fill="#000"/>
<rect x="1444" y="603" width="1" height="182" fill="#000"/>
<rect x="4" y="784" width="1441" height="1" fill="#000"/>
<rect x="1445" y="46" width="2" height="1" fill="#000"/>
<rect x="1445" y="111" width="2" height="1" fill="#000"/>
<rect x="1445" y="176" width="2" height="1" fill="#000"/>
<rect x="1445" y="241" width="2" height="1" fill="#000"/>
<rect x="1445" y="306" width="2" height="1" fill="#000"/>
<rect x="1445" y="371" width="2" height="1" fill="#000"/>
<rect x="1445" y="436" width="2" height="1" fill="#000"/>
<rect x="1445" y="501" width="2" height="1" fill="#000"/>
<rect x="1445" y="566" width="2" height="1" fill="#000"/>
<rect x="1445" y="666" width="1" height="1" fill="#000"/>
<rect x="1445" y="605" width="1" height="1" fill="#000"/>
<rect x="1445" y="783" width="1" height="1" fill="#000"/>
<rect x="5" y="785" width="1" height="3" fill="#000"/>
<rect x="133" y="785" width="1" height="3" fill="#000"/>
<rect x="261" y="785" width="1" height="3" fill="#000"/>
<rect x="389" y="785" width="1" height="3" fill="#000"/>
<rect x="517" y="785" width="1" height="3" fill="#000"/>
<rect x="645" y="785" width="1" height="3" fill="#000"/>
<rect x="773" y="785" width="1" height="3" fill="#000"/>
<rect x="901" y="785" width="1" height="3" fill="#000"/>
<rect x="1029" y="785" width="1" height="3" fill="#000"/>
<g font-family='"Liberation Sans", Arial, sans-serif' font-size="14" fill="#000" stroke="#000" stroke-width="0.1" shape-rendering="geometricPrecision">
<path d="M8 12H19L13.5 18Z" fill="#000"/>
<text x="25.7" y="21" textLength="66.6" lengthAdjust="spacingAndGlyphs">SP500-,H4</text>
<text x="100.2" y="21" textLength="59.4" lengthAdjust="spacingAndGlyphs">4468.970</text>
<text x="164.6" y="21" textLength="59.4" lengthAdjust="spacingAndGlyphs">4472.470</text>
<text x="229" y="21" textLength="59.4" lengthAdjust="spacingAndGlyphs">4467.470</text>
<text x="293.4" y="21" textLength="59.4" lengthAdjust="spacingAndGlyphs">4469.970</text>
<text x="1451" y="52" textLength="60.3" lengthAdjust="spacingAndGlyphs">4627.200</text>
<text x="1451" y="117" textLength="60.3" lengthAdjust="spacingAndGlyphs">4594.050</text>
<text x="1451" y="182" textLength="60.3" lengthAdjust="spacingAndGlyphs">4560.390</text>
<text x="1451" y="247" textLength="60.3" lengthAdjust="spacingAndGlyphs">4527.240</text>
<text x="1451" y="312" textLength="60.3" lengthAdjust="spacingAndGlyphs">4494.090</text>
<text x="1451" y="377" textLength="60.3" lengthAdjust="spacingAndGlyphs">4460.430</text>
<text x="1451" y="442" textLength="60.3" lengthAdjust="spacingAndGlyphs">4427.280</text>
<text x="1451" y="507" textLength="60.3" lengthAdjust="spacingAndGlyphs">4393.620</text>
<text x="1451" y="572" textLength="60.3" lengthAdjust="spacingAndGlyphs">4360.470</text>
<rect x="1446" y="259" width="70" height="17" fill="#000"/>
<text x="1451" y="273" textLength="60.3" lengthAdjust="spacingAndGlyphs" fill="#fff" stroke="#fff">4515.000</text>
<rect x="1446" y="345" width="70" height="17" fill="#000"/>
<text x="1451" y="359" textLength="60.3" lengthAdjust="spacingAndGlyphs" fill="#fff" stroke="#fff">4469.970</text>
<rect x="1446" y="405" width="70" height="17" fill="#0000cd"/>
<text x="1451" y="419" textLength="60.3" lengthAdjust="spacingAndGlyphs" fill="#fff" stroke="#fff">4440.000</text>
<text x="9.5" y="621" textLength="195" lengthAdjust="spacingAndGlyphs">MACD(12,26,9) 8.3297 -1.9194</text>
<text x="1447.8" y="619" textLength="51.6" lengthAdjust="spacingAndGlyphs">16.6842</text>
<text x="1448.4" y="672">0.00</text>
<text x="1447.6" y="780" textLength="57" lengthAdjust="spacingAndGlyphs">-31.7553</text>
<text x="3.8" y="802" textLength="72.8906" lengthAdjust="spacingAndGlyphs">21 Jul 2023</text>
<text x="131.8" y="802" textLength="76.7797" lengthAdjust="spacingAndGlyphs">26 Jul 00:00</text>
<text x="259.8" y="802" textLength="76.7797" lengthAdjust="spacingAndGlyphs">28 Jul 16:00</text>
<text x="387.8" y="802" textLength="77.1344" lengthAdjust="spacingAndGlyphs">2 Aug 08:00</text>
<text x="515.8" y="802" textLength="77.1344" lengthAdjust="spacingAndGlyphs">7 Aug 00:00</text>
<text x="643.8" y="802" textLength="77.1344" lengthAdjust="spacingAndGlyphs">9 Aug 16:00</text>
<text x="771.8" y="802" textLength="84.9203" lengthAdjust="spacingAndGlyphs">14 Aug 08:00</text>
<text x="899.8" y="802" textLength="84.9203" lengthAdjust="spacingAndGlyphs">17 Aug 00:00</text>
<text x="1027.8" y="802" textLength="84.9203" lengthAdjust="spacingAndGlyphs">21 Aug 16:00</text>
</g>
</svg>
</body></html>
